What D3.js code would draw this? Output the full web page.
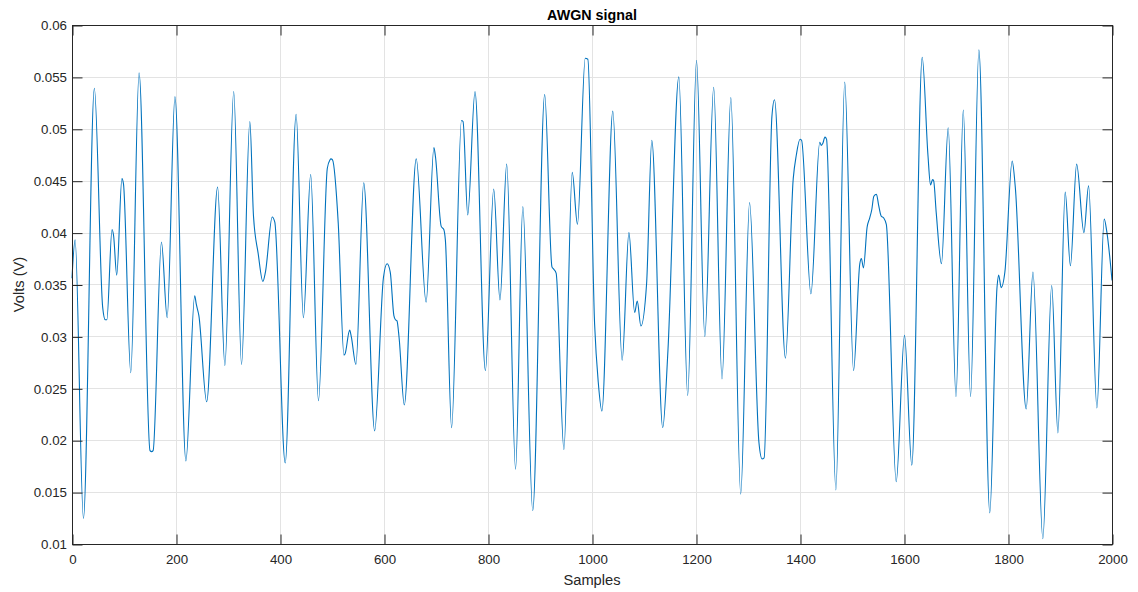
<!DOCTYPE html>
<html>
<head>
<meta charset="utf-8">
<script src="https://cdn.jsdelivr.net/npm/d3@7"></script>
<style>
  html, body { margin: 0; padding: 0; background: #fff; }
  svg { display: block; font-family: "Liberation Sans", Arial, Helvetica, sans-serif; }
</style>
</head>
<body>
<svg id="chart" width="1138" height="592"></svg>
<script>
// Sample indices of the traced waveform (turning points and shoulders)
const sampleIdx = [
  0, 6, 22, 43, 59, 64, 67, 77, 80, 86, 96, 99, 113, 129, 150, 153, 156, 172, 183, 198,
  219, 236, 239, 244, 259, 280, 294, 311, 326, 342, 349, 358, 367, 372, 385, 390, 410, 431, 445, 459,
  474, 491, 496, 498, 501, 512, 523, 525, 534, 537, 546, 561, 582, 599, 606, 612, 619, 622, 625, 629,
  639, 662, 681, 696, 699, 710, 715, 718, 730, 749, 752, 761, 775, 795, 811, 823, 836, 853, 867, 886,
  909, 923, 926, 931, 946, 962, 972, 987, 992, 1005, 1012, 1019, 1040, 1058, 1071, 1082, 1087, 1094, 1105, 1115,
  1136, 1146, 1167, 1184, 1201, 1217, 1234, 1250, 1267, 1286, 1303, 1321, 1327, 1331, 1346, 1351, 1372, 1387, 1393, 1400,
  1403, 1421, 1438, 1441, 1444, 1448, 1451, 1469, 1486, 1503, 1515, 1518, 1522, 1529, 1534, 1538, 1542, 1547, 1551, 1556,
  1561, 1566, 1585, 1601, 1615, 1635, 1646, 1651, 1655, 1657, 1662, 1672, 1685, 1700, 1714, 1728, 1744, 1765, 1779, 1782,
  1787, 1794, 1808, 1814, 1835, 1848, 1867, 1884, 1896, 1910, 1920, 1932, 1946, 1955, 1971, 1985, 1990, 2000
];

// Signal level in volts at each of the indices above
const volts = [
  0.0356, 0.0393, 0.01245, 0.0539, 0.0328, 0.0316, 0.0316, 0.0403, 0.0397, 0.0359, 0.0452, 0.0447, 0.0265, 0.0554, 0.0190, 0.0189, 0.0190, 0.0391, 0.0318, 0.0531,
  0.0180, 0.0339, 0.0331, 0.0320, 0.0237, 0.0444, 0.0272, 0.0536, 0.0273, 0.0507, 0.0416, 0.0380, 0.0353, 0.0362, 0.0415, 0.0410, 0.0178, 0.0514, 0.0318, 0.0456,
  0.0238, 0.0462, 0.0470, 0.0471, 0.0470, 0.0409, 0.0282, 0.0283, 0.0306, 0.0300, 0.0273, 0.0448, 0.0209, 0.0357, 0.0370, 0.0362, 0.0320, 0.0316, 0.0315, 0.0299,
  0.0234, 0.0471, 0.0333, 0.0482, 0.0473, 0.0406, 0.0403, 0.0393, 0.0212, 0.0508, 0.0507, 0.0417, 0.0536, 0.0267, 0.0442, 0.0335, 0.0466, 0.0172, 0.0425, 0.0132,
  0.0533, 0.0367, 0.0365, 0.0361, 0.0191, 0.0458, 0.0408, 0.0568, 0.0567, 0.0312, 0.0256, 0.0228, 0.0517, 0.0277, 0.0400, 0.0323, 0.0334, 0.0310, 0.0351, 0.0489,
  0.0212, 0.0286, 0.0550, 0.0243, 0.0566, 0.0300, 0.0540, 0.0259, 0.0530, 0.0148, 0.0429, 0.0198, 0.0182, 0.0183, 0.0512, 0.0528, 0.0279, 0.0452, 0.0475, 0.0490,
  0.0489, 0.0341, 0.0487, 0.0484, 0.0486, 0.0492, 0.0490, 0.0152, 0.0545, 0.0267, 0.0370, 0.0375, 0.0366, 0.0405, 0.0414, 0.0422, 0.0435, 0.0437, 0.0427, 0.0416,
  0.0414, 0.0408, 0.0160, 0.0301, 0.0176, 0.0569, 0.0475, 0.0446, 0.0451, 0.0450, 0.0419, 0.0370, 0.0501, 0.0242, 0.0518, 0.0242, 0.0576, 0.0130, 0.0348, 0.0359,
  0.0347, 0.0362, 0.0469, 0.0444, 0.0230, 0.0362, 0.0105, 0.0349, 0.0207, 0.0439, 0.0368, 0.0466, 0.0400, 0.0445, 0.0231, 0.0413, 0.0401, 0.0354
];

const xTicks = [0, 200, 400, 600, 800, 1000, 1200, 1400, 1600, 1800, 2000];
const yTicks = [0.01, 0.015, 0.02, 0.025, 0.03, 0.035, 0.04, 0.045, 0.05, 0.055, 0.06];
const yTickLabels = ["0.01", "0.015", "0.02", "0.025", "0.03", "0.035", "0.04", "0.045", "0.05", "0.055", "0.06"];

const chartTitle = "AWGN signal";
const xLabel = "Samples";
const yLabel = "Volts (V)";

// Plot box edges
const plotL = 72, plotR = 1112, plotT = 25, plotB = 544;
const axisColor = "#262626";
const gridColor = "#e3e3e3";
const lineColor = "#0072BD";
const tickLen = 10;

const svg = d3.select("#chart");

const x = d3.scaleLinear().domain([0, 2000]).range([plotL, plotR]);
const y = d3.scaleLinear().domain([0.01, 0.06]).range([plotB, plotT]);

// Grid lines
const grid = svg.append("g");
grid.selectAll("line.gx").data(xTicks.slice(1, -1)).join("line")
  .attr("class", "gx")
  .attr("x1", d => Math.round(x(d)) + 0.5).attr("x2", d => Math.round(x(d)) + 0.5)
  .attr("y1", plotT).attr("y2", plotB)
  .attr("stroke", gridColor).attr("stroke-width", 1);
grid.selectAll("line.gy").data(yTicks.slice(1, -1)).join("line")
  .attr("class", "gy")
  .attr("y1", d => Math.round(y(d)) + 0.5).attr("y2", d => Math.round(y(d)) + 0.5)
  .attr("x1", plotL).attr("x2", plotR)
  .attr("stroke", gridColor).attr("stroke-width", 1);

// Signal trace
const points = sampleIdx.map((s, i) => [s, volts[i]]);
const line = d3.line()
  .x(d => x(d[0]))
  .y(d => y(d[1]))
  .curve(d3.curveMonotoneX);

svg.append("path")
  .datum(points)
  .attr("d", line)
  .attr("fill", "none")
  .attr("stroke", lineColor)
  .attr("stroke-width", 1.1)
  .attr("stroke-linejoin", "round");

// Axes: ticks point inward, mirrored on the opposite sides
const xAxisB = d3.axisBottom(x).tickValues(xTicks).tickSizeInner(-tickLen).tickSizeOuter(0).tickPadding(10)
  .tickFormat(d3.format("d"));
const xAxisT = d3.axisTop(x).tickValues(xTicks).tickSizeInner(-tickLen).tickSizeOuter(0).tickFormat("");
const yAxisL = d3.axisLeft(y).tickValues(yTicks).tickSizeInner(-tickLen).tickSizeOuter(0).tickPadding(5.5)
  .tickFormat((d, i) => yTickLabels[i]);
const yAxisR = d3.axisRight(y).tickValues(yTicks).tickSizeInner(-tickLen).tickSizeOuter(0).tickFormat("");

function style(g) {
  g.select(".domain").remove();
  g.selectAll(".tick line").attr("stroke", axisColor).attr("stroke-width", 1);
  g.selectAll(".tick text").attr("fill", axisColor).attr("font-size", "13.3px")
    .attr("font-family", "'Liberation Sans', Arial, Helvetica, sans-serif");
}

svg.append("g").attr("transform", `translate(0.5,${plotB + 0.5})`).call(xAxisB).call(style);
svg.append("g").attr("transform", `translate(0.5,${plotT + 0.5})`).call(xAxisT).call(style);
svg.append("g").attr("transform", `translate(${plotL + 0.5},0.5)`).call(yAxisL).call(style);
svg.append("g").attr("transform", `translate(${plotR + 0.5},0.5)`).call(yAxisR).call(style);

// Axes box
svg.append("rect")
  .attr("x", plotL + 0.5).attr("y", plotT + 0.5)
  .attr("width", plotR - plotL).attr("height", plotB - plotT)
  .attr("fill", "none").attr("stroke", axisColor).attr("stroke-width", 1);

// Title and axis labels
svg.append("text")
  .attr("x", (plotL + plotR) / 2).attr("y", 19.5)
  .attr("text-anchor", "middle")
  .attr("font-size", "14.3px").attr("font-weight", "bold").attr("fill", "#000")
  .text(chartTitle);

svg.append("text")
  .attr("x", (plotL + plotR) / 2).attr("y", 585)
  .attr("text-anchor", "middle")
  .attr("font-size", "14.7px").attr("fill", axisColor)
  .text(xLabel);

svg.append("text")
  .attr("transform", `translate(23.5,${(plotT + plotB) / 2}) rotate(-90)`)
  .attr("text-anchor", "middle")
  .attr("font-size", "14.7px").attr("fill", axisColor)
  .text(yLabel);
</script>
</body>
</html>
